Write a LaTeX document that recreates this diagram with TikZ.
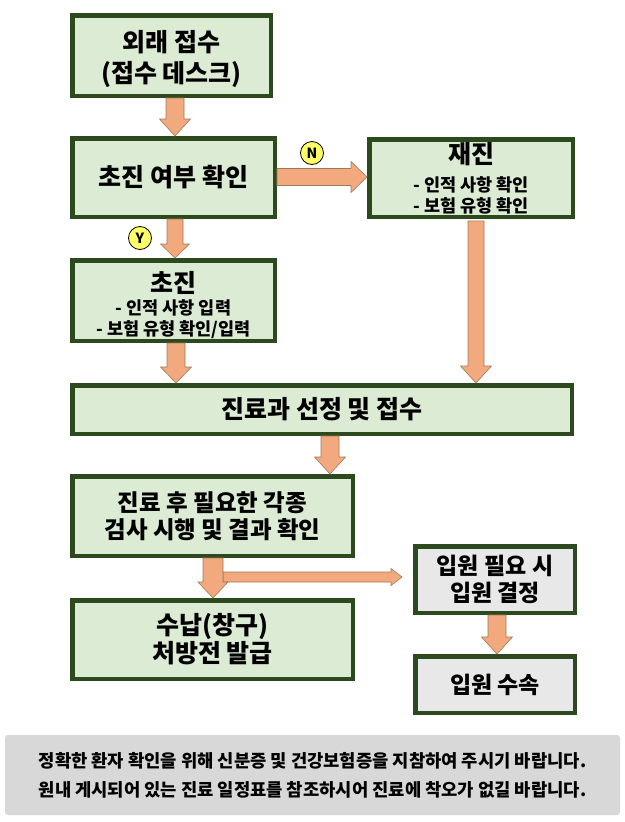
\documentclass[tikz,border=0pt]{standalone}
\usepackage{fontspec}
\setmainfont{Noto Sans CJK KR}
\usetikzlibrary{calc}
\definecolor{boxfill}{HTML}{DCEBD4}
\definecolor{boxline}{HTML}{2D4A1E}
\definecolor{grayfill}{HTML}{E8E8E8}
\definecolor{footfill}{HTML}{D8D8D8}
\definecolor{arrfill}{HTML}{F2A97E}
\definecolor{arrline}{HTML}{A07A5A}
\definecolor{yn}{HTML}{FFFF66}
\newcommand\vblock[5]{%
  \draw[barrow] let \p1=(#1), \p2=(#2) in
    (\x1-#3,\y1) -- (\x1+#3,\y1) -- (\x1+#3,\y2+#5) -- (\x1+#4,\y2+#5) --
    (\x1,\y2) -- (\x1-#4,\y2+#5) -- (\x1-#3,\y2+#5) -- cycle;}
\newcommand\hblock[5]{%
  \draw[barrow] let \p1=(#1), \p2=(#2) in
    (\x1,\y1+#3) -- (\x2-#5,\y1+#3) -- (\x2-#5,\y1+#4) -- (\x2,\y1) --
    (\x2-#5,\y1-#4) -- (\x2-#5,\y1-#3) -- (\x1,\y1-#3) -- cycle;}
\tikzset{
  box/.style={draw=boxline, fill=boxfill, line width=4.5pt, inner sep=0pt,
    align=center, font=\bfseries\fontsize{25}{31}\selectfont},
  graybox/.style={box, fill=grayfill},
  barrow/.style={fill=arrfill, draw=arrline, line width=0.6pt, line join=miter},
  yncirc/.style={circle, draw=black, fill=yn, line width=0.8pt, minimum size=23pt,
    inner sep=0pt, font=\bfseries\fontsize{14}{14}\selectfont}
}
\begin{document}
\begin{tikzpicture}[x=1pt,y=-1pt]
\useasboundingbox (0,0) rectangle (624,822);
\fill[white] (0,0) rectangle (624,822);
% boxes
\node[box, minimum width=198.5pt, minimum height=80.5pt] (B1) at (171.5,55.5)
  {\rule{0pt}{28pt}외래 접수\\(접수 데스크)};
\node[box, minimum width=202.5pt, minimum height=78.5pt] (B2) at (173.5,177.5)
  {초진 여부 확인};
\node[box, minimum width=203.5pt, minimum height=77.5pt, font=\bfseries\fontsize{17.5}{21}\selectfont] (B3) at (471,178)
  {{\fontsize{25}{21}\selectfont 재진}\\[7pt]- 인적 사항 확인\\- 보험 유형 확인};
\node[box, minimum width=202.5pt, minimum height=80.5pt, font=\bfseries\fontsize{17.5}{20.5}\selectfont] (B4) at (173.5,300.5)
  {{\fontsize{25}{21}\selectfont\rule{0pt}{30pt}초진}\\[2pt]- 인적 사항 입력\\- 보험 유형 확인/입력};
\node[box, minimum width=499.5pt, minimum height=48.5pt] (B5) at (322,409.5)
  {진료과 선정 및 접수};
\node[box, minimum width=280.5pt, minimum height=79.5pt, font=\bfseries\fontsize{23.5}{27}\selectfont] (B6) at (212.5,516)
  {진료 후 필요한 각종\\검사 시행 및 결과 확인};
\node[graybox, minimum width=159.5pt, minimum height=66.5pt, font=\bfseries\fontsize{23}{27}\selectfont] (B7) at (495,579.5)
  {입원 필요 시\\입원 결정};
\node[box, minimum width=280.5pt, minimum height=78.5pt, font=\bfseries\fontsize{25}{28}\selectfont] (B8) at (212.5,639.5)
  {수납(창구)\\처방전 발급};
\node[graybox, minimum width=159.5pt, minimum height=56.5pt, font=\bfseries\fontsize{23}{27}\selectfont] (B9) at (495,684.5)
  {입원 수속};
% footer
\node[fill=footfill, rounded corners=3pt, minimum width=615pt, minimum height=80pt, inner sep=0pt,
  align=center, font=\bfseries\fontsize{17.7}{29}\selectfont] (F) at (312.5,775)
  {정확한 환자 확인을 위해 신분증 및 건강보험증을 지참하여 주시기 바랍니다.\\원내 게시되어 있는 진료 일정표를 참조하시어 진료에 착오가 없길 바랍니다.};
% arrow axes
\coordinate (xa) at (175,0);
\coordinate (xb) at (176,0);
\coordinate (xc) at (476,0);
\coordinate (xd) at (330,0);
\coordinate (xe) at (213,0);
\coordinate (xf) at (497,0);
\coordinate (ya) at (0,177);
\coordinate (sA8) at (223,577);
\coordinate (tA8) at (402,577);
\coordinate (sA5) at (476,221);
% arrows
\vblock{xa |- B1.south}{xa |- B2.north}{9pt}{15.5pt}{17pt}
\hblock{B2.east |- ya}{B3.west |- ya}{8.5pt}{15.5pt}{16pt}
\vblock{xa |- B2.south}{xa |- B4.north}{8pt}{14.5pt}{14pt}
\vblock{xb |- B4.south}{xb |- B5.north}{9pt}{15.5pt}{16pt}
\vblock{sA5}{xc |- B5.north}{8pt}{15.5pt}{17pt}
\vblock{xd |- B5.south}{xd |- B6.north}{9pt}{15.5pt}{17pt}
\hblock{sA8}{tA8}{5pt}{8.5pt}{11pt}
\vblock{xe |- B6.south}{xe |- B8.north}{10pt}{15pt}{16pt}
\vblock{xf |- B7.south}{xf |- B9.north}{9pt}{15.5pt}{17pt}
% Y/N markers
\node[yncirc] (N) at (312,153) {N};
\node[yncirc] (Y) at (140,238) {Y};
\end{tikzpicture}
\end{document}
